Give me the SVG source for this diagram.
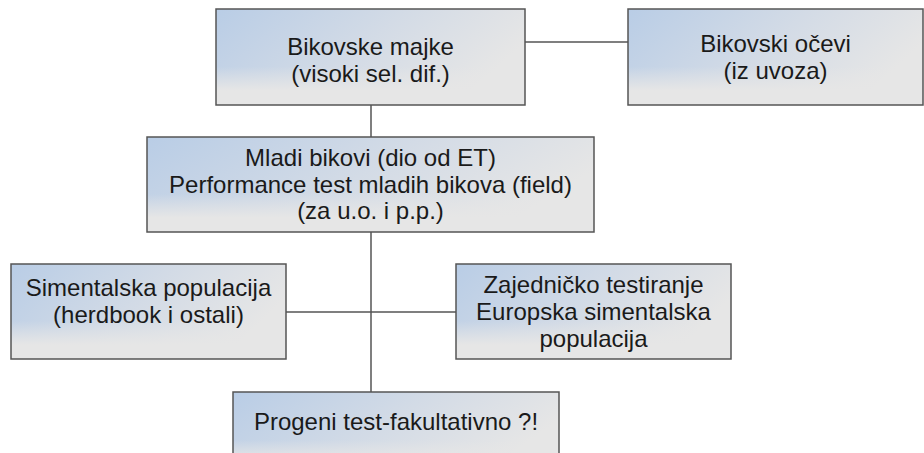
<svg xmlns="http://www.w3.org/2000/svg" width="924" height="453" viewBox="0 0 924 453">
<defs>
<linearGradient id="gh" x1="0" y1="0" x2="1" y2="0.35">
<stop offset="0" stop-color="#b9cde6"/>
<stop offset="0.55" stop-color="#d3dbe6"/>
<stop offset="1" stop-color="#e6e6e6"/>
</linearGradient>
<linearGradient id="gv" x1="0" y1="0" x2="0" y2="1">
<stop offset="0" stop-color="#e6e6e6" stop-opacity="0"/>
<stop offset="0.6" stop-color="#e6e6e6" stop-opacity="0"/>
<stop offset="0.85" stop-color="#e6e6e6" stop-opacity="1"/>
<stop offset="1" stop-color="#e6e6e6" stop-opacity="1"/>
</linearGradient>
</defs>
<style>
.b{fill:url(#gh);}
.o{fill:url(#gv);stroke:#555;stroke-width:1.5;}
.t{font-family:"Liberation Sans",Arial,sans-serif;font-size:24px;fill:#1a1a1a;text-anchor:middle;}
.c{stroke:#555;stroke-width:1.5;fill:none;}
</style>
<g id="connectors">
<line class="c" x1="525" y1="42" x2="628" y2="42"/>
<line class="c" x1="371" y1="105" x2="371" y2="137"/>
<line class="c" x1="371" y1="232" x2="371" y2="392"/>
<line class="c" x1="286" y1="312" x2="456" y2="312"/>
</g>
<g id="n1">
<rect class="b" x="216" y="9" width="309" height="96"/>
<rect class="o" x="216" y="9" width="309" height="96"/>
<text class="t" x="370.5" y="55">Bikovske majke</text>
<text class="t" x="370.5" y="82">(visoki sel. dif.)</text>
</g>
<g id="n2">
<rect class="b" x="628" y="9" width="295" height="96"/>
<rect class="o" x="628" y="9" width="295" height="96"/>
<text class="t" x="775.5" y="52">Bikovski očevi</text>
<text class="t" x="775.5" y="79">(iz uvoza)</text>
</g>
<g id="n3">
<rect class="b" x="147" y="137" width="447" height="95"/>
<rect class="o" x="147" y="137" width="447" height="95"/>
<text class="t" x="370.5" y="166">Mladi bikovi (dio od ET)</text>
<text class="t" x="370.5" y="193">Performance test mladih bikova (field)</text>
<text class="t" x="370.5" y="219">(za u.o. i p.p.)</text>
</g>
<g id="n4">
<rect class="b" x="11" y="264" width="275" height="95"/>
<rect class="o" x="11" y="264" width="275" height="95"/>
<text class="t" x="148.5" y="296">Simentalska populacija</text>
<text class="t" x="148.5" y="323">(herdbook i ostali)</text>
</g>
<g id="n5">
<rect class="b" x="456" y="264" width="275" height="95"/>
<rect class="o" x="456" y="264" width="275" height="95"/>
<text class="t" x="593.5" y="293">Zajedničko testiranje</text>
<text class="t" x="593.5" y="320">Europska simentalska</text>
<text class="t" x="593.5" y="347">populacija</text>
</g>
<g id="n6">
<rect class="b" x="233" y="392" width="326" height="80"/>
<rect class="o" x="233" y="392" width="326" height="80"/>
<text class="t" x="396" y="430">Progeni test-fakultativno ?!</text>
</g>
</svg>
